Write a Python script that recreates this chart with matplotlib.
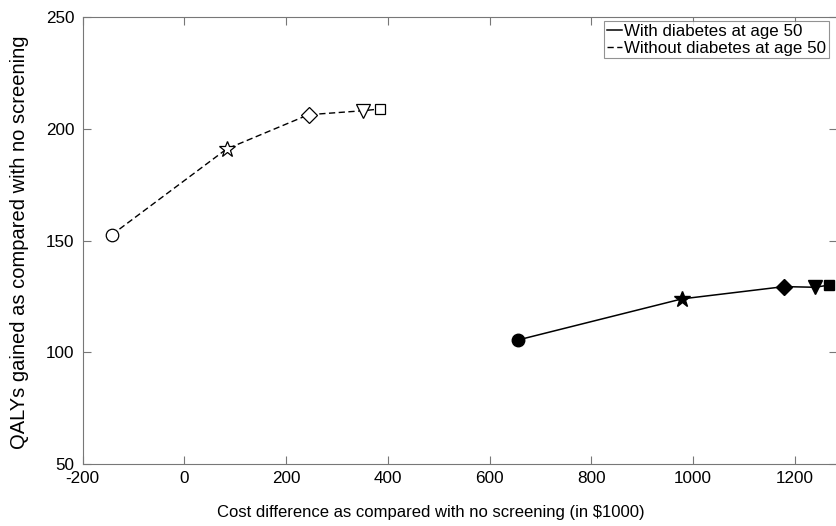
import matplotlib
matplotlib.use("Agg")
import matplotlib.pyplot as plt

plt.rcParams['font.family'] = ['Liberation Sans', 'DejaVu Sans']
plt.rcParams['axes.unicode_minus'] = False

# strategies, in order along each curve
markers = ['o', '*', 'D', 'v', 's']

cost_with = [655, 978, 1179, 1240, 1268]
qaly_with = [105.5, 123.9, 129.4, 129.1, 130.1]

cost_without = [-143, 83, 244, 352, 385]
qaly_without = [152.5, 190.9, 206.2, 208.0, 208.8]

sizes = [9, 12, 8.5, 9.5, 7]

W, H = 837, 526
fig = plt.figure(figsize=(W / 100, H / 100), dpi=100)
left, bottom, top = 82.7 / W, 1 - 464.3 / H, 1 - 16.7 / H
ax = fig.add_axes([left, bottom, 1 - left, top - bottom])

ax.plot(cost_with, qaly_with, color='black', linewidth=1.1, label='With diabetes at age 50')
ax.plot(cost_without, qaly_without, color='black', linewidth=1.0, linestyle=(0, (4.5, 2.5)),
        label='Without diabetes at age 50')

for x, y, m, s in zip(cost_with, qaly_with, markers, sizes):
    ax.plot(x, y, marker=m, markersize=s, color='black', markerfacecolor='black', linestyle='none')
for x, y, m, s in zip(cost_without, qaly_without, markers, sizes):
    ax.plot(x, y, marker=m, markersize=s, color='black', markerfacecolor='white',
            markeredgewidth=0.9, linestyle='none')

ax.set_xlim(-200, 1283)
ax.set_ylim(50, 250)
ax.set_xticks([-200, 0, 200, 400, 600, 800, 1000, 1200])
ax.set_yticks([50, 100, 150, 200, 250])
ax.tick_params(direction='in', top=True, right=True, labelsize=12.3, length=6, color='#777777')
ax.tick_params(axis='x', pad=5)
ax.tick_params(axis='y', pad=6)
for sp in ax.spines.values():
    sp.set_color('#777777')

fig.text(431 / W, 1 - 512 / H, 'Cost difference as compared with no screening (in $1000)',
         fontsize=12, ha='center', va='center')
fig.text(20 / W, 1 - 242 / H, 'QALYs gained as compared with no screening',
         fontsize=14.5, ha='center', va='center', rotation=90)

leg = ax.legend(loc='upper left', fontsize=12.2, handlelength=0.9, handletextpad=0.15,
                borderpad=0.15, labelspacing=0.12, fancybox=False, borderaxespad=0,
                bbox_to_anchor=(604 / W, 1 - 21 / H), bbox_transform=fig.transFigure)
leg.get_frame().set_edgecolor('#777777')
leg.get_frame().set_linewidth(0.8)

fig.savefig('out.png', dpi=100)
